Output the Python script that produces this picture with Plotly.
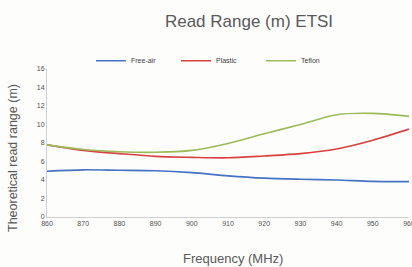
import plotly.graph_objects as go

freq = [860, 870, 880, 890, 900, 910, 920, 930, 940, 950, 960]
free_air = [4.95, 5.1, 5.05, 5.0, 4.8, 4.45, 4.2, 4.08, 4.0, 3.85, 3.82]
plastic = [7.8, 7.2, 6.85, 6.55, 6.45, 6.4, 6.6, 6.85, 7.35, 8.3, 9.5]
teflon = [7.8, 7.3, 7.05, 7.0, 7.2, 7.95, 9.0, 10.0, 11.05, 11.2, 10.88]
y_ticks = [0, 2, 4, 6, 8, 10, 12, 14, 16]
x_ticks = freq

series = [("Free-air", free_air, "#4472C4"),
          ("Plastic", plastic, "#D9403F"),
          ("Teflon", teflon, "#9BBB59")]

fig = go.Figure()
for name, vals, color in series:
    fig.add_trace(go.Scatter(x=freq, y=vals, name=name, mode="lines",
                             line=dict(color=color, width=1.6, shape="spline", smoothing=0.8)))

W, H = 412, 267
L, R, T, B = 47, 3, 69, 50
pw = W - L - R
ph = H - T - B
grey = "#595959"
tick_grey = "#505050"

fig.update_layout(
    width=W, height=H,
    margin=dict(l=L, r=R, t=T, b=B, autoexpand=False),
    paper_bgcolor="#fdfdfc", plot_bgcolor="#fdfdfc",
    font=dict(family="Liberation Sans, Arial, sans-serif", color=grey),
    title=dict(text="Read Range (m) ETSI", x=(249 - L) / pw, xref="paper", xanchor="center",
               y=1 - 21 / H, yref="container", yanchor="middle",
               font=dict(size=17, color=grey)),
    showlegend=True,
    legend=dict(orientation="h", x=(91 - L) / pw, xanchor="left",
                y=1 + (T - 60.7) / ph, yanchor="middle",
                font=dict(size=7, color="#404040"), entrywidth=40, entrywidthmode="pixels",
                bgcolor="rgba(0,0,0,0)", itemwidth=30),
    xaxis=dict(range=[860, 960], tickvals=x_ticks, showgrid=False, zeroline=False,
               showline=True, linecolor="#d0d0d0", linewidth=1, ticks="",
               tickfont=dict(size=7, color=tick_grey), fixedrange=True, automargin=False,
               ticklabeloverflow="allow"),
    yaxis=dict(range=[0, 16], tickvals=y_ticks, showgrid=False, zeroline=False,
               showline=True, linecolor="#d0d0d0", linewidth=1, ticks="",
               tickfont=dict(size=7, color=tick_grey), fixedrange=True, automargin=False),
    annotations=[
        dict(text="Theoretical read range (m)", textangle=-90, xref="paper", yref="paper",
             x=(13 - L) / pw, y=(217 - 158) / ph, xanchor="center", yanchor="middle",
             showarrow=False, font=dict(size=12.5, color=grey)),
        dict(text="Frequency (MHz)", xref="paper", yref="paper",
             x=(232.5 - L) / pw, y=(217 - 258) / ph, xanchor="center", yanchor="middle",
             showarrow=False, font=dict(size=13, color=grey)),
    ],
)

fig.write_html("out.html", config={"displayModeBar": False},
               post_script="document.body.style.margin='0';document.body.style.padding='0';")
